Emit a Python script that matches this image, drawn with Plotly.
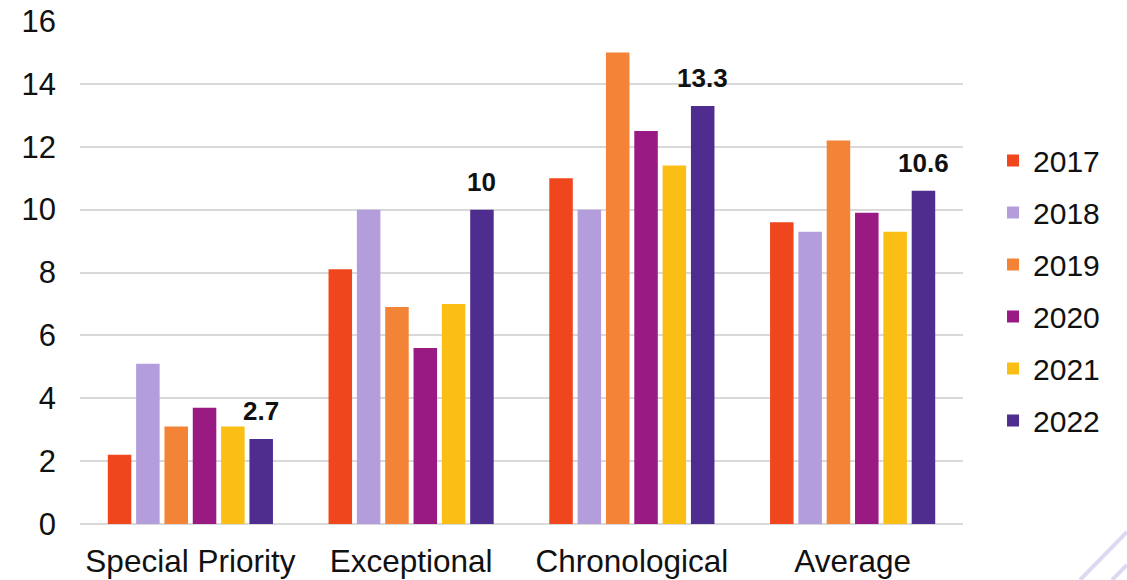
import plotly.graph_objects as go

categories = ["Special Priority", "Exceptional", "Chronological", "Average"]
years = ["2017", "2018", "2019", "2020", "2021", "2022"]
values = {
    "2017": [2.2, 8.1, 11.0, 9.6],
    "2018": [5.1, 10.0, 10.0, 9.3],
    "2019": [3.1, 6.9, 15.0, 12.2],
    "2020": [3.7, 5.6, 12.5, 9.9],
    "2021": [3.1, 7.0, 11.4, 9.3],
    "2022": [2.7, 10.0, 13.3, 10.6],
}
colors = {
    "2017": "#F0461E",
    "2018": "#B39DDB",
    "2019": "#F38337",
    "2020": "#9A1A84",
    "2021": "#FBBE14",
    "2022": "#4F2D8F",
}
labelled_year = "2022"

W, H = 1127, 580
ML, MR, MT, MB = 80, 164, 21, 56
BARGAP, BARGROUPGAP = 0.23, 0.17
FONT = "Liberation Sans, Arial, sans-serif"

fig = go.Figure()
for y in years:
    fig.add_trace(go.Bar(
        name=y,
        x=categories,
        y=values[y],
        marker=dict(color=colors[y], line=dict(width=0)),
        legendgroup=y,
    ))

# data labels for the highlighted year, placed above its bars
plot_w = W - ML - MR
slot = plot_w / len(categories) * (1 - BARGAP) / len(years)
idx = years.index(labelled_year)
xshift = (idx - (len(years) - 1) / 2) * slot
for cat, v in zip(categories, values[labelled_year]):
    fig.add_annotation(
        x=cat, y=v, xref="x", yref="y",
        text=f"<b>{v:g}</b>", showarrow=False,
        xanchor="center", yanchor="bottom",
        xshift=xshift, yshift=11,
        font=dict(family=FONT, size=26, color="#111111"),
    )

# faint watermark strokes at bottom-right corner
for (x0, y0, x1, y1) in [(1080, 580, 1127, 532), (1112, 580, 1127, 565)]:
    fig.add_shape(
        type="line", xref="paper", yref="paper",
        x0=(x0 - ML) / plot_w, x1=(x1 - ML) / plot_w,
        y0=(H - MB - y0) / (H - MT - MB), y1=(H - MB - y1) / (H - MT - MB),
        line=dict(color="#DDD9F1", width=4),
    )

fig.update_layout(
    width=W, height=H,
    margin=dict(l=ML, r=MR, t=MT, b=MB, autoexpand=False),
    paper_bgcolor="white", plot_bgcolor="white",
    barmode="group", bargap=BARGAP, bargroupgap=BARGROUPGAP,
    font=dict(family=FONT, color="#111111"),
    showlegend=True,
    legend=dict(
        x=1.034, xanchor="left", y=0.464, yanchor="middle",
        font=dict(size=30, color="#111111"),
        tracegroupgap=10, traceorder="grouped",
    ),
    xaxis=dict(
        tickfont=dict(size=31.5, color="#111111"),
        showline=False, ticks="", ticklabelstandoff=15, automargin=False,
    ),
    yaxis=dict(
        range=[0, 16], dtick=2,
        tickfont=dict(size=31, color="#111111"),
        showgrid=True, gridcolor="#D9D9D9", gridwidth=1.5,
        zeroline=True, zerolinecolor="#D9D9D9", zerolinewidth=1.5,
        ticks="", ticklabelstandoff=23, automargin=False,
    ),
)

fig.write_html(
    "out.html",
    config={"displayModeBar": False},
    post_script="document.body.style.margin='0';",
)
